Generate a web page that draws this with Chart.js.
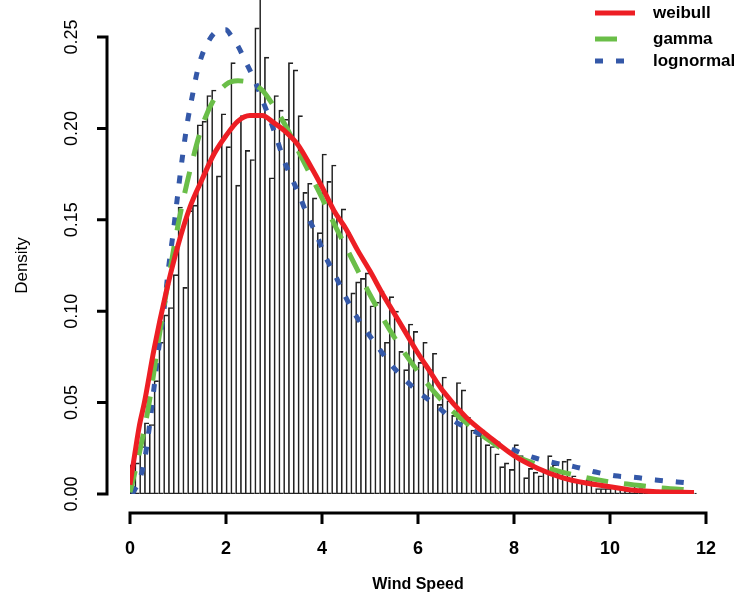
<!DOCTYPE html>
<html>
<head>
<meta charset="utf-8">
<script src="https://cdn.jsdelivr.net/npm/chart.js@4.4.1/dist/chart.umd.min.js"></script>
<style>
  html, body { margin: 0; padding: 0; background: #fff; }
  #wrap { width: 743px; height: 598px; }
</style>
</head>
<body>
<div id="wrap"><canvas id="windChart" width="743" height="598"></canvas></div>
<script>
// histogram: bins of 0.1 starting at 0
let binStart = 0;
let binWidth = 0.1;
let histDensity = [
  0.016, 0.017, 0.026, 0.039, 0.038, 0.062, 0.083, 0.098, 0.102, 0.120,
  0.157, 0.113, 0.155, 0.158, 0.202, 0.204, 0.218, 0.221, 0.174, 0.208,
  0.190, 0.236, 0.169, 0.207, 0.188, 0.183, 0.255, 0.285, 0.239, 0.173,
  0.218, 0.210, 0.205, 0.236, 0.232, 0.207, 0.165, 0.170, 0.162, 0.143,
  0.186, 0.171, 0.180, 0.151, 0.156, 0.143, 0.110, 0.116, 0.118, 0.121,
  0.103, 0.105, 0.111, 0.083, 0.108, 0.100, 0.078, 0.068, 0.093, 0.089,
  0.072, 0.083, 0.068, 0.077, 0.049, 0.064, 0.051, 0.043, 0.061, 0.057,
  0.042, 0.035, 0.032, 0.035, 0.027, 0.026, 0.022, 0.015, 0.017, 0.0135,
  0.027, 0.021, 0.009, 0.014, 0.012, 0.010, 0.013, 0.021, 0.016, 0.013,
  0.018, 0.019, 0.010, 0.007, 0.007, 0.008, 0.009, 0.003, 0.003, 0.003,
  0.004, 0.003, 0.003, 0.002, 0.003, 0.005, 0.003, 0.002, 0.002, 0.001,
  0.002, 0.001, 0.001, 0.001, 0.0015, 0.001, 0.001, 0.0005
];

// fitted curves
let weibullX = [0, 0.1, 0.2, 0.3, 0.5, 0.75, 1, 1.25, 1.5, 1.75, 2, 2.25, 2.5, 2.75, 3, 3.25, 3.5, 3.75, 4, 4.25,
  4.5, 4.75, 5, 5.25, 5.5, 5.75, 6, 6.25, 6.5, 7, 7.5, 8, 8.5, 9, 9.5, 10, 10.5, 11, 11.75];
let weibullY = [0.005, 0.022, 0.038, 0.050, 0.079, 0.110, 0.136, 0.157, 0.172, 0.186, 0.196, 0.204, 0.207, 0.207,
  0.203, 0.198, 0.191, 0.180, 0.168, 0.155, 0.145, 0.133, 0.122, 0.110, 0.099, 0.088, 0.077, 0.067, 0.057, 0.042,
  0.031, 0.021, 0.014, 0.009, 0.006, 0.004, 0.002, 0.0012, 0.0008];

let gammaX = [0, 0.2, 0.4, 0.6, 0.8, 1, 1.25, 1.5, 1.75, 2, 2.25, 2.5, 2.75, 3, 3.25, 3.5, 3.75, 4, 4.25, 4.5,
  4.75, 5, 5.5, 6, 6.5, 7, 7.5, 8, 8.5, 9, 9.5, 10, 10.5, 11, 11.75];
let gammaY = [0.001, 0.023, 0.050, 0.085, 0.117, 0.147, 0.177, 0.201, 0.216, 0.224, 0.226, 0.225, 0.221, 0.212,
  0.201, 0.188, 0.175, 0.162, 0.148, 0.135, 0.122, 0.109, 0.086, 0.067, 0.051, 0.039, 0.029, 0.021, 0.016, 0.012,
  0.009, 0.0066, 0.005, 0.0035, 0.002];

let lognormX = [0.05, 0.2, 0.3, 0.4, 0.5, 0.6, 0.7, 0.8, 0.9, 1.0, 1.1, 1.2, 1.3, 1.4, 1.5, 1.6, 1.75, 1.9, 2.0,
  2.1, 2.25, 2.4, 2.6, 2.75, 2.9, 3.05, 3.2, 3.4, 3.55, 3.7, 3.9, 4.05, 4.25, 4.45, 4.65, 4.9, 5.15, 5.4, 5.75,
  6.05, 6.4, 6.75, 7.2, 7.55, 8.0, 8.4, 8.85, 9.25, 9.7, 10.1, 10.55, 10.95, 11.4, 11.7];
let lognormY = [0.0, 0.008, 0.018, 0.036, 0.058, 0.080, 0.099, 0.123, 0.143, 0.165, 0.186, 0.204, 0.218, 0.231,
  0.240, 0.246, 0.252, 0.254, 0.254, 0.251, 0.245, 0.237, 0.226, 0.216, 0.206, 0.195, 0.183, 0.171, 0.162, 0.152,
  0.141, 0.131, 0.121, 0.110, 0.100, 0.090, 0.081, 0.072, 0.062, 0.055, 0.048, 0.040, 0.034, 0.029, 0.024, 0.020,
  0.017, 0.015, 0.012, 0.010, 0.009, 0.0077, 0.0066, 0.0058];

let xTicks = [0, 2, 4, 6, 8, 10, 12];
let yTicks = [0, 0.05, 0.10, 0.15, 0.20, 0.25];

let seriesNames = ['weibull', 'gamma', 'lognormal'];
let seriesColors = ['rgb(237, 30, 36)', 'rgb(106, 190, 72)', 'rgb(52, 88, 168)'];
let seriesDash = [[], [22, 16], [8, 13]];

function pairs(xs, ys) {
  return xs.map((x, i) => ({ x: x, y: ys[i] }));
}

const histPoints = histDensity.map((d, i) => ({ x: binStart + (i + 0.5) * binWidth, y: d }));

const curveSets = [
  pairs(weibullX, weibullY),
  pairs(gammaX, gammaY),
  pairs(lognormX, lognormY)
];

const lineDatasets = curveSets.map((pts, k) => ({
  type: 'line',
  label: seriesNames[k],
  data: pts,
  borderColor: seriesColors[k],
  borderWidth: 5,
  borderDash: seriesDash[k],
  borderCapStyle: 'butt',
  pointRadius: 0,
  cubicInterpolationMode: 'monotone',
  fill: false,
  order: k
}));

// R style detached axes, legend and titles
const rAxes = {
  id: 'rAxes',
  afterDraw(chart) {
    const ctx = chart.ctx;
    const xs = chart.scales.x;
    const ys = chart.scales.y;
    const area = chart.chartArea;
    const yAxisX = area.left - 23;
    const xAxisY = area.bottom + 19;
    ctx.save();
    ctx.strokeStyle = '#000';
    ctx.fillStyle = '#000';
    ctx.lineWidth = 3;
    ctx.lineCap = 'butt';

    // y axis
    const yTop = ys.getPixelForValue(yTicks[yTicks.length - 1]);
    const yBot = ys.getPixelForValue(yTicks[0]);
    ctx.beginPath();
    ctx.moveTo(yAxisX, yTop - 1.5);
    ctx.lineTo(yAxisX, yBot + 1.5);
    yTicks.forEach(v => {
      const p = ys.getPixelForValue(v);
      ctx.moveTo(yAxisX + 1.5, p);
      ctx.lineTo(yAxisX - 10, p);
    });
    ctx.stroke();

    ctx.font = '18px "Liberation Sans", Arial, sans-serif';
    ctx.textAlign = 'center';
    ctx.textBaseline = 'middle';
    yTicks.forEach(v => {
      const p = ys.getPixelForValue(v);
      ctx.save();
      ctx.translate(yAxisX - 35, p);
      ctx.rotate(-Math.PI / 2);
      ctx.fillText(v.toFixed(2), 0, 0);
      ctx.restore();
    });

    // x axis
    const xL = xs.getPixelForValue(xTicks[0]);
    const xR = xs.getPixelForValue(xTicks[xTicks.length - 1]);
    ctx.beginPath();
    ctx.moveTo(xL - 1.5, xAxisY);
    ctx.lineTo(xR + 1.5, xAxisY);
    xTicks.forEach(v => {
      const p = xs.getPixelForValue(v);
      ctx.moveTo(p, xAxisY - 1.5);
      ctx.lineTo(p, xAxisY + 11);
    });
    ctx.stroke();

    ctx.font = 'bold 18px "Liberation Sans", Arial, sans-serif';
    xTicks.forEach(v => {
      ctx.fillText(String(v), xs.getPixelForValue(v), xAxisY + 36);
    });

    // axis titles
    ctx.font = 'bold 16px "Liberation Sans", Arial, sans-serif';
    ctx.fillText('Wind Speed', (area.left + area.right) / 2, xAxisY + 72);
    ctx.save();
    ctx.translate(22, (yTop + yBot) / 2);
    ctx.rotate(-Math.PI / 2);
    ctx.font = '17px "Liberation Sans", Arial, sans-serif';
    ctx.fillText('Density', 0, 0);
    ctx.restore();

    // legend
    ctx.font = 'bold 17px "Liberation Sans", Arial, sans-serif';
    ctx.textAlign = 'left';
    const legRows = [13, 39, 61];
    seriesNames.forEach((name, k) => {
      const ly = legRows[k];
      ctx.beginPath();
      ctx.strokeStyle = seriesColors[k];
      ctx.lineWidth = 5;
      ctx.setLineDash(seriesDash[k]);
      ctx.moveTo(595, ly);
      ctx.lineTo(k === 1 ? 619 : 635, ly);
      ctx.stroke();
      ctx.setLineDash([]);
      ctx.fillStyle = '#000';
      ctx.fillText(name, 653, ly);
    });
    ctx.restore();
  }
};

const lastBin = histDensity.length - 1;

const data = {
  datasets: lineDatasets.concat([{
    type: 'bar',
    label: 'hist',
    data: histPoints,
    backgroundColor: 'rgba(255,255,255,0)',
    borderColor: '#222',
    borderWidth: ctx => ({ top: 1, left: 1, bottom: 1, right: ctx.dataIndex === lastBin ? 1 : 0 }),
    borderSkipped: false,
    barPercentage: 1,
    categoryPercentage: 1,
    order: 3
  }])
};

const config = {
  type: 'bar',
  data: data,
  options: {
    responsive: false,
    animation: false,
    events: [],
    layout: { padding: { left: 130, right: 37, top: 0, bottom: 104 } },
    scales: {
      x: { type: 'linear', min: 0, max: 12, offset: false, display: false },
      y: { type: 'linear', min: 0, max: 494 / 1828, display: false }
    },
    plugins: {
      legend: { display: false },
      tooltip: { enabled: false }
    }
  },
  plugins: [rAxes]
};

const windChart = new Chart(document.getElementById('windChart'), config);
</script>
</body>
</html>
